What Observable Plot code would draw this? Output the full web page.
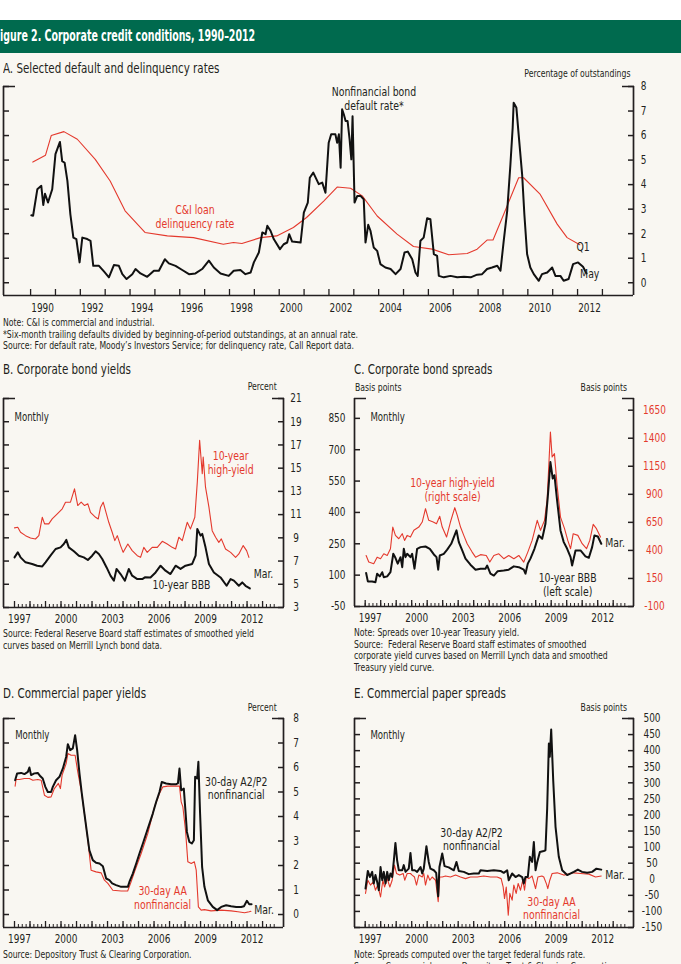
<!DOCTYPE html>
<html><head><meta charset="utf-8">
<script src="https://cdn.jsdelivr.net/npm/d3@7"></script>
<script src="https://cdn.jsdelivr.net/npm/@observablehq/plot@0.6"></script>
<style>
body{margin:0;background:#fff;}
#page{position:relative;width:681px;height:964px;overflow:hidden;background:#f9f7f2;color:#231f20;
 font-family:"Liberation Sans Narrow","DejaVu Sans Condensed","Arial Narrow","Roboto Condensed",sans-serif;font-stretch:condensed;}
.white{position:absolute;left:0;top:0;width:681px;height:20px;background:#fff}
.head{position:absolute;left:0;top:20px;width:681px;height:33px;background:#006a4e;}
.head span{position:absolute;left:0;top:0;color:#fff;font-weight:bold;font-size:15px;line-height:32px;white-space:nowrap;transform:scaleX(0.7);transform-origin:0 0;}
.t{position:absolute;white-space:nowrap;transform-origin:0 0;}
.r{transform-origin:100% 0 !important;}
.pt{font-size:14px;line-height:14px;transform:scaleX(0.82)}
.note{font-size:10px;line-height:11.7px;transform:scaleX(0.86)}
.unit{font-size:10px;line-height:12px;transform:scaleX(0.86)}
</style></head>
<body><div id="page">
<div class="white"></div>
<div class="head"><span>igure 2. Corporate credit conditions, 1990–2012</span></div>
<div class="t pt" style="left:3px;top:61px">A. Selected default and delinquency rates</div>
<div class="t unit r" style="right:51px;top:68px">Percentage of outstandings</div>
<div class="t note" style="left:3px;top:317px">Note: C&amp;I is commercial and industrial.<br>*Six-month trailing defaults divided by beginning-of-period outstandings, at an annual rate.<br>Source: For default rate, Moody’s Investors Service; for delinquency rate, Call Report data.</div>
<div class="t pt" style="left:3px;top:362px">B. Corporate bond yields</div>
<div class="t unit r" style="right:404px;top:381px">Percent</div>
<div class="t note" style="left:3px;top:628px">Source: Federal Reserve Board staff estimates of smoothed yield<br>curves based on Merrill Lynch bond data.</div>
<div class="t pt" style="left:354px;top:362px">C. Corporate bond spreads</div>
<div class="t unit" style="left:355px;top:382px">Basis points</div>
<div class="t unit r" style="right:54px;top:382px">Basis points</div>
<div class="t note" style="left:354px;top:627px">Note: Spreads over 10-year Treasury yield.<br>Source:&nbsp; Federal Reserve Board staff estimates of smoothed<br>corporate yield curves based on Merrill Lynch data and smoothed<br>Treasury yield curve.</div>
<div class="t pt" style="left:3px;top:686px">D. Commercial paper yields</div>
<div class="t unit r" style="right:404px;top:702px">Percent</div>
<div class="t note" style="left:3px;top:949px">Source: Depository Trust &amp; Clearing Corporation.</div>
<div class="t pt" style="left:354px;top:686px">E. Commercial paper spreads</div>
<div class="t unit r" style="right:54px;top:702px">Basis points</div>
<div class="t note" style="left:354px;top:949px">Note: Spreads computed over the target federal funds rate.<br>Source: Commercial paper, Depository Trust &amp; Clearing Corporation;</div>
</div>
<script>
// ---------- DATA (decimal year, value) ----------
const defaultRate = [[1990.03,2.75],[1990.1,2.73],[1990.27,3.81],[1990.43,3.95],[1990.51,3.17],[1990.58,3.63],[1990.7,3.27],[1990.87,3.81],[1991.0,5.24],[1991.18,5.74],[1991.27,4.96],[1991.37,4.89],[1991.48,4.15],[1991.6,2.79],[1991.72,1.84],[1991.84,1.78],[1991.97,0.83],[1992.08,1.84],[1992.28,1.78],[1992.41,1.71],[1992.52,0.69],[1992.75,0.69],[1992.95,0.46],[1993.15,0.22],[1993.35,0.72],[1993.55,0.69],[1993.69,0.35],[1993.86,0.15],[1994.09,0.35],[1994.22,0.56],[1994.42,0.38],[1994.69,0.24],[1994.96,0.49],[1995.16,0.49],[1995.4,0.96],[1995.56,0.79],[1995.83,0.69],[1996.1,0.52],[1996.37,0.35],[1996.63,0.38],[1996.9,0.56],[1997.17,0.9],[1997.37,0.62],[1997.64,0.38],[1997.97,0.28],[1998.17,0.49],[1998.44,0.52],[1998.64,0.35],[1998.85,0.42],[1998.98,0.83],[1999.18,1.23],[1999.32,2.05],[1999.45,1.98],[1999.52,2.32],[1999.65,2.12],[1999.78,1.78],[2000.03,1.37],[2000.18,1.57],[2000.32,1.64],[2000.4,1.98],[2000.52,1.68],[2000.86,1.64],[2000.99,2.86],[2001.15,3.27],[2001.23,4.28],[2001.37,4.49],[2001.59,4.02],[2001.73,4.08],[2001.86,3.67],[2001.99,5.71],[2002.09,6.05],[2002.26,6.05],[2002.33,5.71],[2002.4,6.05],[2002.47,4.69],[2002.53,7.07],[2002.6,6.86],[2002.67,6.59],[2002.75,6.59],[2002.83,5.85],[2002.9,5.03],[2002.95,6.79],[2003.03,3.27],[2003.14,3.54],[2003.27,3.54],[2003.4,3.4],[2003.47,1.64],[2003.58,2.36],[2003.67,2.12],[2003.8,1.44],[2003.94,1.3],[2004.07,0.76],[2004.27,0.62],[2004.48,0.56],[2004.68,0.35],[2004.88,0.56],[2005.04,1.23],[2005.17,1.27],[2005.35,0.96],[2005.48,0.42],[2005.57,0.28],[2005.68,1.71],[2005.81,1.84],[2005.95,2.63],[2006.08,2.59],[2006.22,1.17],[2006.35,1.1],[2006.42,0.28],[2006.62,0.22],[2006.89,0.28],[2007.16,0.22],[2007.43,0.24],[2007.7,0.22],[2007.96,0.33],[2008.16,0.35],[2008.36,0.56],[2008.56,0.62],[2008.77,0.69],[2008.9,0.49],[2009.03,1.71],[2009.17,2.93],[2009.3,4.83],[2009.39,6.32],[2009.43,7.34],[2009.54,7.13],[2009.63,6.05],[2009.77,4.42],[2009.86,2.79],[2009.97,1.17],[2010.1,0.62],[2010.24,0.35],[2010.44,0.08],[2010.57,0.35],[2010.78,0.42],[2010.98,0.62],[2011.11,0.28],[2011.31,0.28],[2011.44,0.08],[2011.64,0.15],[2011.82,0.76],[2012.02,0.83],[2012.22,0.65],[2012.36,0.38]];
const delinquencyRate = [[1990.09,4.92],[1990.6,5.2],[1990.83,6.0],[1991.34,6.16],[1991.88,5.85],[1992.6,5.03],[1993.2,4.15],[1993.8,2.93],[1994.6,2.05],[1995.5,1.91],[1996.55,1.84],[1997.75,1.57],[1998.16,1.64],[1998.5,1.6],[1999.25,1.84],[1999.9,1.91],[2000.57,2.25],[2001.1,2.66],[2001.8,3.34],[2002.33,3.9],[2002.87,3.85],[2003.34,3.54],[2003.94,2.72],[2004.74,1.98],[2005.4,1.48],[2006.15,1.37],[2006.82,1.14],[2007.56,1.19],[2007.96,1.37],[2008.36,1.74],[2008.6,1.74],[2009.03,2.79],[2009.63,4.28],[2009.83,4.28],[2010.5,3.6],[2011.18,2.39],[2011.58,1.84],[2012.09,1.55]];
const bbbYield = [[1997.0,7.32],[1997.21,7.75],[1997.39,7.32],[1997.71,6.89],[1998.14,6.75],[1998.46,6.6],[1998.79,6.54],[1999.0,6.89],[1999.32,7.46],[1999.65,8.04],[1999.97,8.18],[2000.18,8.47],[2000.34,8.82],[2000.5,8.18],[2000.83,7.84],[2001.15,7.46],[2001.47,7.32],[2001.73,7.09],[2002.01,7.46],[2002.23,7.84],[2002.44,7.61],[2002.66,7.18],[2002.94,6.45],[2003.19,5.74],[2003.41,5.31],[2003.58,6.32],[2003.84,5.88],[2004.12,5.31],[2004.37,6.32],[2004.59,5.74],[2004.92,5.45],[2005.24,5.45],[2005.41,5.6],[2005.77,5.59],[2006.1,6.02],[2006.42,6.6],[2006.74,6.17],[2007.06,5.88],[2007.39,6.6],[2007.71,6.32],[2008.03,6.6],[2008.46,6.75],[2008.68,7.46],[2008.79,9.77],[2009.0,9.19],[2009.11,9.34],[2009.32,8.18],[2009.54,6.75],[2009.86,6.02],[2010.29,5.59],[2010.68,4.87],[2010.94,5.45],[2011.15,5.31],[2011.47,4.87],[2011.69,5.16],[2011.9,4.87],[2012.18,4.64]];
const hyYield = [[1997.0,9.86],[1997.21,9.91],[1997.39,9.48],[1997.71,9.19],[1998.03,8.99],[1998.35,8.9],[1998.57,9.19],[1998.79,10.77],[1998.94,10.2],[1999.21,10.2],[1999.43,10.63],[1999.76,11.07],[2000.08,11.5],[2000.29,12.07],[2000.61,12.07],[2000.87,13.22],[2001.08,11.78],[2001.3,12.07],[2001.52,11.78],[2001.73,11.93],[2001.9,11.2],[2002.23,10.77],[2002.4,10.63],[2002.55,11.64],[2002.72,12.07],[2002.87,11.35],[2003.08,10.34],[2003.3,9.48],[2003.47,8.76],[2003.63,9.19],[2003.84,8.33],[2004.01,7.75],[2004.31,8.47],[2004.59,7.9],[2004.92,7.46],[2005.13,7.32],[2005.34,8.18],[2005.56,7.75],[2005.88,8.18],[2006.21,8.18],[2006.53,8.7],[2006.85,8.47],[2007.17,8.18],[2007.39,8.04],[2007.6,9.05],[2007.82,8.76],[2008.14,10.34],[2008.35,9.77],[2008.63,10.77],[2008.79,13.8],[2008.94,17.4],[2009.11,14.52],[2009.17,15.95],[2009.32,13.36],[2009.54,11.64],[2009.75,9.62],[2009.97,9.05],[2010.18,8.61],[2010.34,8.91],[2010.61,8.04],[2010.94,7.75],[2011.26,7.32],[2011.47,7.61],[2011.75,8.33],[2011.97,7.9],[2012.12,7.32]];
const bbbSpread = [[1997.06,110],[1997.17,70],[1997.45,70],[1997.66,66],[1997.77,107],[1997.94,94],[1998.1,114],[1998.2,90],[1998.42,94],[1998.63,114],[1998.81,202],[1998.95,183],[1999.1,155],[1999.28,186],[1999.39,138],[1999.49,226],[1999.6,186],[1999.71,202],[1999.92,186],[2000.03,202],[2000.18,131],[2000.35,226],[2000.57,234],[2000.89,237],[2001.17,226],[2001.43,199],[2001.6,186],[2001.71,126],[2001.81,194],[2002.07,202],[2002.29,222],[2002.55,250],[2002.72,282],[2002.89,314],[2003.04,258],[2003.26,218],[2003.47,179],[2003.79,150],[2004.12,126],[2004.44,131],[2004.76,131],[2004.87,146],[2005.08,107],[2005.3,98],[2005.55,119],[2005.94,122],[2006.26,126],[2006.59,142],[2006.91,138],[2007.23,126],[2007.34,107],[2007.49,155],[2007.66,179],[2007.92,226],[2008.2,290],[2008.42,274],[2008.63,346],[2008.78,474],[2008.95,641],[2009.1,562],[2009.21,578],[2009.38,458],[2009.6,314],[2009.81,258],[2010.03,226],[2010.25,186],[2010.35,146],[2010.57,218],[2010.89,218],[2011.21,190],[2011.43,183],[2011.64,234],[2011.79,290],[2012.01,285],[2012.23,250]];
const hySpread = [[1997.06,355],[1997.23,296],[1997.55,281],[1997.77,340],[1997.99,326],[1998.2,370],[1998.42,355],[1998.63,415],[1998.78,608],[1998.95,534],[1999.17,504],[1999.39,549],[1999.54,489],[1999.71,534],[1999.92,519],[2000.14,579],[2000.46,608],[2000.68,653],[2000.89,772],[2001.1,668],[2001.39,653],[2001.6,638],[2001.81,704],[2001.97,608],[2002.25,519],[2002.5,653],[2002.78,781],[2002.94,712],[2003.15,608],[2003.36,534],[2003.58,460],[2003.9,385],[2004.12,340],[2004.44,362],[2004.81,355],[2005.04,296],[2005.3,355],[2005.62,370],[2005.94,326],[2006.26,355],[2006.59,326],[2006.91,355],[2007.23,296],[2007.49,385],[2007.77,489],[2008.1,668],[2008.31,579],[2008.57,668],[2008.74,853],[2008.95,1456],[2009.06,1233],[2009.21,1263],[2009.38,980],[2009.6,697],[2009.86,594],[2010.07,489],[2010.25,415],[2010.42,549],[2010.72,534],[2011.0,460],[2011.28,415],[2011.49,489],[2011.71,632],[2011.92,594],[2012.18,519]];
const cpA2P2Yield = [[1997.04,5.48],[1997.17,5.76],[1997.43,5.78],[1997.64,5.73],[1997.86,5.82],[1997.96,6.0],[1998.07,5.69],[1998.28,5.76],[1998.5,5.78],[1998.67,5.64],[1998.82,5.55],[1998.99,5.21],[1999.15,5.0],[1999.36,5.0],[1999.47,5.21],[1999.68,5.48],[1999.9,5.62],[2000.12,5.96],[2000.33,6.43],[2000.44,6.95],[2000.59,6.71],[2000.76,6.78],[2000.91,7.32],[2001.04,6.71],[2001.19,5.76],[2001.34,4.94],[2001.51,4.12],[2001.68,3.31],[2001.83,2.62],[2002.05,2.22],[2002.26,2.11],[2002.48,2.08],[2002.7,1.97],[2002.91,1.47],[2003.12,1.4],[2003.3,1.27],[2003.55,1.2],[2003.88,1.13],[2004.31,1.13],[2004.41,1.33],[2004.63,1.67],[2004.85,2.08],[2005.06,2.49],[2005.28,2.9],[2005.6,3.51],[2005.92,4.12],[2006.14,4.6],[2006.35,5.0],[2006.5,5.41],[2006.78,5.35],[2007.1,5.32],[2007.43,5.32],[2007.54,5.35],[2007.64,5.96],[2007.75,5.07],[2007.92,5.14],[2008.03,4.19],[2008.12,3.37],[2008.28,2.96],[2008.44,2.9],[2008.57,3.03],[2008.65,5.62],[2008.78,5.55],[2008.86,6.23],[2008.97,4.12],[2009.1,1.94],[2009.25,1.13],[2009.47,0.58],[2009.79,0.31],[2010.07,0.18],[2010.33,0.31],[2010.65,0.38],[2010.97,0.34],[2011.3,0.31],[2011.62,0.31],[2011.8,0.34],[2011.99,0.56],[2012.14,0.42],[2012.29,0.42]];
const cpAAYield = [[1997.04,5.24],[1997.1,5.51],[1997.32,5.51],[1997.64,5.55],[1997.96,5.55],[1998.18,5.48],[1998.5,5.51],[1998.72,5.48],[1998.93,4.87],[1999.15,4.78],[1999.36,4.8],[1999.57,5.14],[1999.83,5.35],[1999.96,5.14],[2000.07,5.69],[2000.33,6.16],[2000.44,6.57],[2000.65,6.5],[2000.91,6.5],[2001.08,5.82],[2001.3,5.07],[2001.51,4.12],[2001.73,3.03],[2001.94,1.81],[2002.26,1.74],[2002.59,1.7],[2002.8,1.4],[2003.02,1.27],[2003.34,0.99],[2003.88,0.96],[2004.3,0.96],[2004.52,1.33],[2004.74,1.74],[2005.17,2.49],[2005.6,3.31],[2006.03,4.39],[2006.35,4.94],[2006.57,5.21],[2006.89,5.24],[2007.3,5.24],[2007.64,5.24],[2007.75,4.6],[2007.86,4.39],[2008.03,3.44],[2008.18,2.15],[2008.4,2.08],[2008.6,2.15],[2008.72,1.81],[2008.86,0.31],[2009.04,0.18],[2009.25,0.2],[2009.68,0.15],[2010.33,0.18],[2010.97,0.15],[2011.41,0.11],[2011.84,0.07],[2012.14,0.11],[2012.25,0.13]];
const cpA2P2Spread = [[1997.02,-29],[1997.17,26],[1997.3,7],[1997.45,23],[1997.55,-13],[1997.66,13],[1997.77,-8],[1997.88,-34],[1997.99,38],[1998.1,-3],[1998.2,23],[1998.31,-13],[1998.42,23],[1998.52,-3],[1998.63,18],[1998.74,7],[1998.85,59],[1998.95,113],[1999.06,59],[1999.17,28],[1999.39,28],[1999.49,44],[1999.6,23],[1999.81,33],[1999.92,82],[2000.03,28],[2000.2,28],[2000.35,23],[2000.57,38],[2000.68,18],[2000.78,33],[2000.95,103],[2001.1,54],[2001.21,33],[2001.43,28],[2001.58,20],[2001.71,-53],[2001.79,38],[2001.97,80],[2002.12,41],[2002.39,37],[2002.72,28],[2002.89,54],[2003.04,26],[2003.36,23],[2003.68,16],[2004.01,18],[2004.33,18],[2004.44,28],[2004.87,26],[2005.3,28],[2005.73,26],[2005.94,20],[2006.16,28],[2006.26,-3],[2006.48,18],[2006.7,7],[2006.91,13],[2007.13,7],[2007.23,-13],[2007.34,7],[2007.49,7],[2007.62,70],[2007.77,54],[2007.88,116],[2007.99,28],[2008.1,54],[2008.27,85],[2008.52,88],[2008.63,90],[2008.74,220],[2008.85,422],[2008.91,381],[2009.0,466],[2009.13,308],[2009.28,163],[2009.49,70],[2009.71,28],[2010.03,13],[2010.46,23],[2010.72,30],[2010.99,23],[2011.32,20],[2011.64,23],[2011.92,33],[2012.23,30]];
const cpAASpread = [[1997.02,-44],[1997.17,-3],[1997.34,-18],[1997.52,-8],[1997.66,-34],[1997.81,-18],[1997.99,-55],[1998.14,-3],[1998.25,-24],[1998.42,2],[1998.59,-24],[1998.74,-3],[1998.89,44],[1999.02,18],[1999.23,13],[1999.45,18],[1999.55,-3],[1999.71,18],[1999.92,18],[2000.03,13],[2000.18,7],[2000.31,-18],[2000.46,13],[2000.68,7],[2000.78,18],[2000.89,-18],[2001.04,13],[2001.17,-3],[2001.32,7],[2001.54,-3],[2001.71,-70],[2001.81,7],[2001.97,7],[2002.18,10],[2002.5,7],[2002.83,13],[2003.15,7],[2003.47,2],[2003.79,7],[2004.23,7],[2004.65,10],[2005.08,7],[2005.51,7],[2005.77,2],[2005.9,-24],[2005.99,-60],[2006.1,-24],[2006.23,-112],[2006.33,-44],[2006.48,-65],[2006.59,-18],[2006.74,-44],[2006.87,-13],[2007.02,-34],[2007.17,-3],[2007.28,-34],[2007.39,7],[2007.56,2],[2007.77,10],[2007.99,-29],[2008.14,7],[2008.4,10],[2008.52,7],[2008.7,-15],[2008.78,-29],[2008.91,-3],[2009.06,18],[2009.39,20],[2009.81,13],[2010.46,20],[2010.89,18],[2011.43,16],[2011.86,7],[2012.23,10]];

// ---------- TICKS ----------
const aYearTicks = d3.range(1990, 2014);
const aYearLabels = [1990,1992,1994,1996,1998,2000,2002,2004,2006,2008,2010,2012];
const aValueTicks = [0,1,2,3,4,5,6,7,8];
const bcYearTicks = d3.range(1997, 2014);
const bcQuarterTicks = d3.range(1997, 2014, 0.25);
const bcYearLabels = [1997,2000,2003,2006,2009,2012];
const bValueTicks = [3,5,7,9,11,13,15,17,19,21];
const cLeftTicks = [-50,100,250,400,550,700,850];
const cRightTicks = [-100,150,400,650,900,1150,1400,1650];
const dValueTicks = [0,1,2,3,4,5,6,7,8];
const eValueTicks = [-150,-100,-50,0,50,100,150,200,250,300,350,400,450,500];

// ---------- ANNOTATIONS ----------
const aNotes = [{x:2003.81,y:7.5,t:"Nonfinancial bond\ndefault rate*",c:"ink",a:"middle"},{x:1996.61,y:2.7,t:"C&I loan\ndelinquency rate",c:"red",a:"middle"},{x:2012.22,y:1.49,t:"Q1",c:"ink",a:"start"},{x:2012.49,y:0.37,t:"May",c:"ink",a:"start"}];
const bNotes = [{x:2010.94,y:15.5,t:"10-year\nhigh-yield",c:"red",a:"middle"},{x:2007.77,y:4.96,t:"10-year BBB",c:"ink",a:"middle"},{x:2013.06,y:5.9,t:"Mar.",c:"ink",a:"middle"}];
const cNotes = [{x:2002.63,y:510,t:"10-year high-yield\n(right scale)",c:"red",a:"middle"},{x:2010.06,y:55,t:"10-year BBB\n(left scale)",c:"ink",a:"middle"},{x:2013.12,y:257,t:"Mar.",c:"ink",a:"middle"}];
const dNotes = [{x:2011.3,y:5.16,t:"30-day A2/P2\nnonfinancial",c:"ink",a:"middle"},{x:2006.55,y:0.69,t:"30-day AA\nnonfinancial",c:"red",a:"middle"},{x:2013.1,y:0.22,t:"Mar.",c:"ink",a:"middle"}];
const eNotes = [{x:2003.86,y:125,t:"30-day A2/P2\nnonfinancial",c:"ink",a:"middle"},{x:2009.02,y:-90,t:"30-day AA\nnonfinancial",c:"red",a:"middle"},{x:2013.12,y:16,t:"Mar.",c:"ink",a:"middle"}];

// ---------- RENDER ----------
const INK = "#231f20", RED = "#e4392d";
const FONT = '"Liberation Sans Narrow","DejaVu Sans Condensed","Arial Narrow","Roboto Condensed",sans-serif';
const NARROW = 0.83;
const page = document.getElementById("page");
const X = d => d[0], Y = d => d[1];
const blank = () => "";
const num = d => String(d);

function narrowTexts(svg) {
  svg.querySelectorAll("text").forEach(t => {
    const tr = t.getAttribute("transform");
    if (tr) t.setAttribute("transform", tr + ` scale(${NARROW},1)`);
    else {
      const x = +(t.getAttribute("x") || 0), y = +(t.getAttribute("y") || 0);
      t.removeAttribute("x"); t.removeAttribute("y");
      t.setAttribute("transform", `translate(${x},${y}) scale(${NARROW},1)`);
    }
  });
}
function place(svg, left, top) {
  narrowTexts(svg);
  const d = document.createElement("div");
  d.style.cssText = `position:absolute;left:${left}px;top:${top}px;`;
  d.appendChild(svg);
  page.appendChild(d);
}
function chart(o) {
  return Plot.plot({
    width: o.w, height: o.h,
    marginLeft: o.ml, marginRight: o.mr, marginTop: o.mt, marginBottom: o.mb,
    x: {domain: o.xd, axis: o.noX ? null : undefined}, y: {domain: o.yd},
    style: {background: "transparent", fontFamily: FONT, fontSize: "11px", color: INK, overflow: "visible"},
    marks: o.marks
  });
}
function frameMarks(xd, yd, yTicks) {
  return [
    Plot.ruleX([xd[0], xd[1]], {stroke: INK, strokeWidth: 1.7}),
    Plot.ruleY([yd[0]], {stroke: INK, strokeWidth: 1.7}),
    Plot.axisY({anchor: "left", ticks: [yd[1]], tickSize: 12, dx: 12, tickFormat: blank, strokeWidth: 1.5, label: null}),
    Plot.axisY({anchor: "right", ticks: [yd[1]], tickSize: 12, dx: -12, tickFormat: blank, strokeWidth: 1.5, label: null}),
    Plot.axisY({anchor: "left", ticks: yTicks, tickSize: 6, dx: 6, tickFormat: blank, strokeWidth: 1.5, label: null})
  ];
}
function rightAxis(yTicks, pad, fill = INK) {
  return [
    Plot.axisY({anchor: "right", ticks: yTicks, tickSize: 0, tickPadding: pad, textAnchor: "middle", tickFormat: num, fill, fontSize: 12, label: null}),
    Plot.axisY({anchor: "right", ticks: yTicks, tickSize: 6, dx: -6, tickFormat: blank, strokeWidth: 1.5, label: null})
  ];
}
function bottomAxis(major, minor, labels, labelDx, pad) {
  const m = [
    Plot.axisX({anchor: "bottom", ticks: major, tickSize: 6, dy: -6, tickFormat: blank, strokeWidth: 1.3, label: null}),
    Plot.axisX({anchor: "bottom", ticks: labels, tickSize: 0, tickPadding: pad, dx: labelDx, tickFormat: num, fontSize: 12, label: null})
  ];
  if (minor) m.push(Plot.axisX({anchor: "bottom", ticks: minor, tickSize: 3, dy: -3, tickFormat: blank, strokeWidth: 1, label: null}));
  return m;
}
function notes(arr, size = 12.5) {
  return Plot.text(arr, {x: "x", y: "y", text: "t", fill: d => d.c === "red" ? RED : INK, textAnchor: d => d.a, lineAnchor: "middle", lineHeight: 1.1, fontSize: size});
}
function monthly(x, y) {
  return Plot.text([{x, y}], {x: "x", y: "y", text: () => "Monthly", textAnchor: "start", lineAnchor: "middle", fill: INK, fontSize: 11.5});
}
const blackLine = data => Plot.line(data, {x: X, y: Y, stroke: "#111", strokeWidth: 2, strokeLinejoin: "round"});
const redLine = data => Plot.line(data, {x: X, y: Y, stroke: RED, strokeWidth: 1.1, strokeLinejoin: "round"});

// Panel A
{
  const xd = [1988.91, 2014.25], yd = [-0.52, 8];
  place(chart({w: 681, h: 240, ml: 3, mr: 48, mt: 6, mb: 25, xd, yd, marks: [
    ...frameMarks(xd, yd, aValueTicks),
    ...rightAxis(aValueTicks, 10),
    ...bottomAxis(aYearTicks, null, aYearLabels, 12, 8),
    redLine(delinquencyRate),
    blackLine(defaultRate),
    notes(aNotes, 12.5)
  ]}), 0, 80);
}
// Panel B
{
  const xd = [1996.29, 2014.35], yd = [3, 21];
  place(chart({w: 340, h: 250, ml: 3, mr: 57, mt: 18, mb: 23, xd, yd, marks: [
    ...frameMarks(xd, yd, bValueTicks),
    ...rightAxis(bValueTicks, 12.5),
    ...bottomAxis(bcYearTicks, bcQuarterTicks, bcYearLabels, 5, 7),
    redLine(hyYield),
    blackLine(bbbYield),
    monthly(1997.0, 19.38),
    notes(bNotes)
  ]}), 0, 380);
}
// Panel C (right scale, red)
{
  const xd = [1996.31, 2014.31], yd = [-100, 1754];
  place(chart({w: 341, h: 250, ml: 14, mr: 48, mt: 18, mb: 24, xd, yd, noX: true, marks: [
    ...rightAxis(cRightTicks, 21, RED),
    redLine(hySpread)
  ]}), 340, 380);
}
// Panel C (left scale, black)
{
  const xd = [1996.31, 2014.31], yd = [-50, 945];
  place(chart({w: 341, h: 250, ml: 14, mr: 48, mt: 18, mb: 24, xd, yd, marks: [
    ...frameMarks(xd, yd, cLeftTicks),
    Plot.axisY({anchor: "left", ticks: cLeftTicks, tickSize: 0, tickPadding: 9, tickFormat: num, fontSize: 12, label: null}),
    ...bottomAxis(bcYearTicks, bcQuarterTicks, bcYearLabels, 5, 7),
    blackLine(bbbSpread),
    monthly(1997.34, 855),
    notes(cNotes)
  ]}), 340, 380);
}
// Panel D
{
  const xd = [1996.29, 2014.35], yd = [-0.53, 8];
  place(chart({w: 340, h: 250, ml: 3, mr: 57, mt: 18, mb: 23, xd, yd, marks: [
    ...frameMarks(xd, yd, dValueTicks),
    ...rightAxis(dValueTicks, 12.5),
    ...bottomAxis(bcYearTicks, bcQuarterTicks, bcYearLabels, 5, 7),
    redLine(cpAAYield),
    blackLine(cpA2P2Yield),
    monthly(1997.04, 7.32),
    notes(dNotes)
  ]}), 0, 700);
}
// Panel E
{
  const xd = [1996.31, 2014.31], yd = [-150, 500];
  place(chart({w: 341, h: 250, ml: 14, mr: 48, mt: 18, mb: 23, xd, yd, marks: [
    ...frameMarks(xd, yd, eValueTicks),
    ...rightAxis(eValueTicks, 18.5),
    ...bottomAxis(bcYearTicks, bcQuarterTicks, bcYearLabels, 5, 7),
    redLine(cpAASpread),
    blackLine(cpA2P2Spread),
    monthly(1997.34, 448),
    notes(eNotes)
  ]}), 340, 700);
}
</script>
</body></html>
